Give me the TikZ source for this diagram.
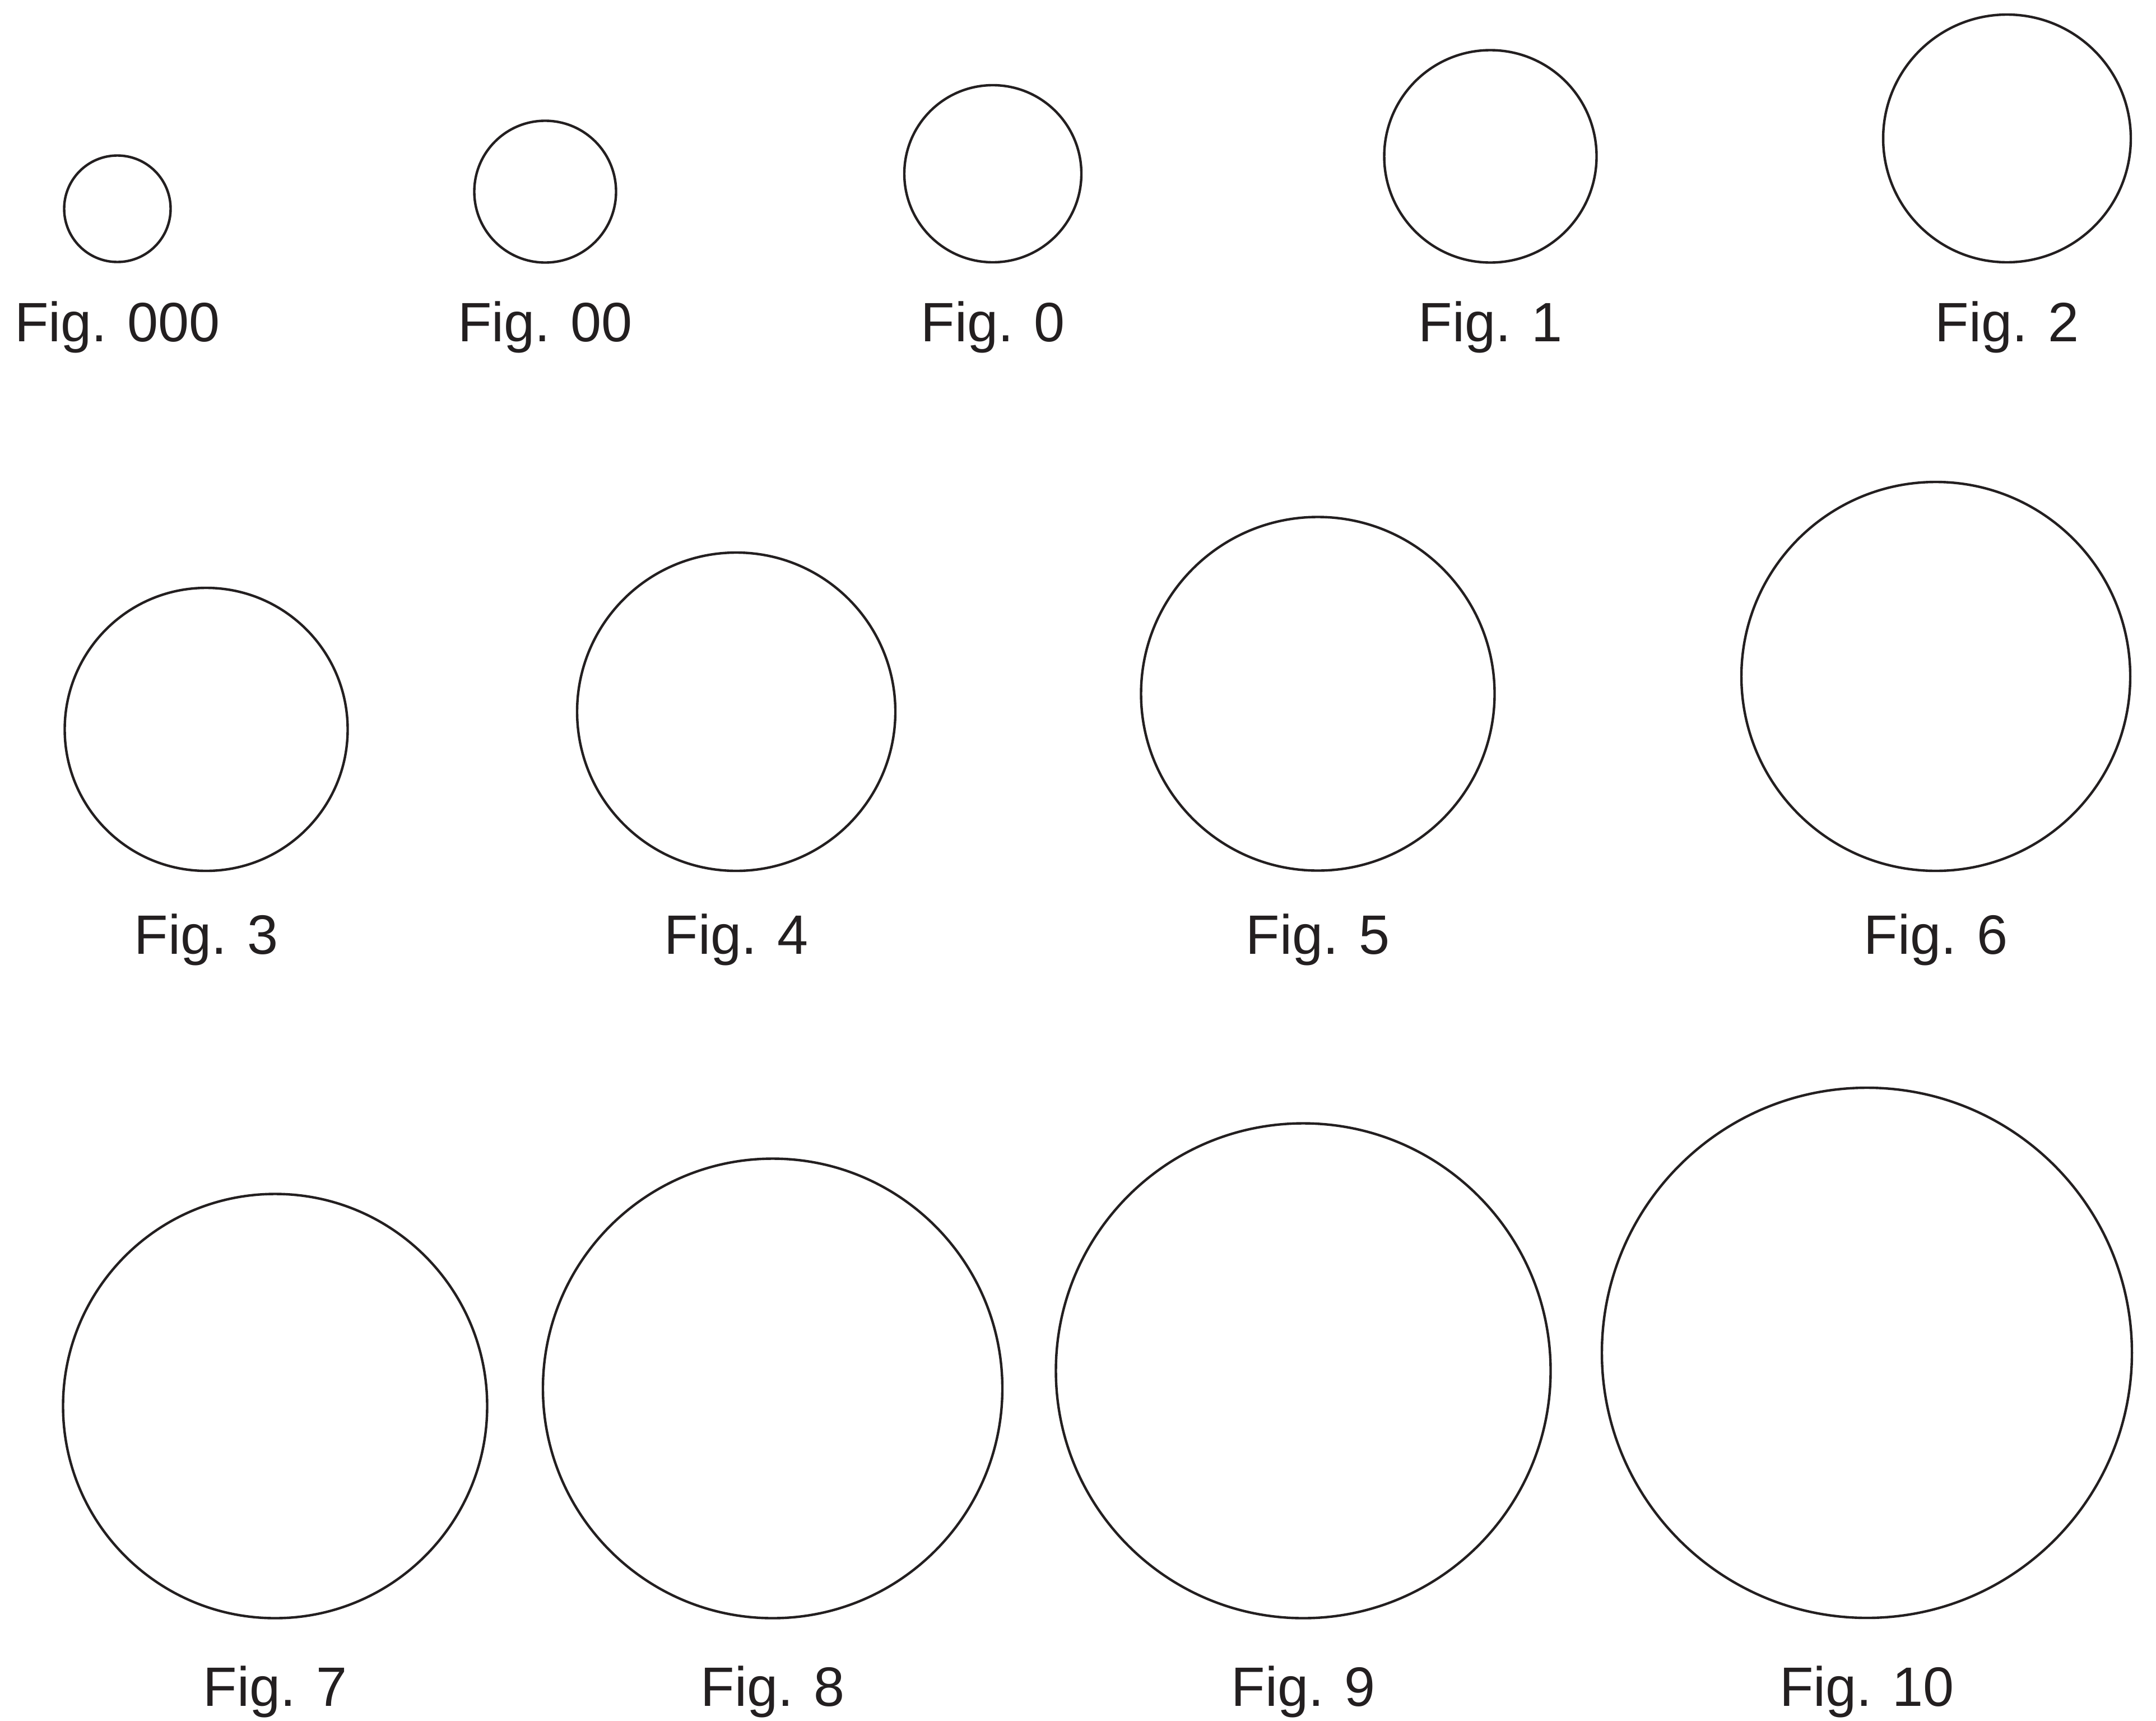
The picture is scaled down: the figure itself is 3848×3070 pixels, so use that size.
\documentclass[tikz,border=0pt]{standalone}
\usepackage{fontspec}
\setmainfont{Liberation Sans}
\definecolor{ink}{RGB}{35,31,32}
\begin{document}
\begin{tikzpicture}[x=1pt,y=-1pt,
  ring/.style={circle,draw=ink,line width=4.4pt,inner sep=0pt,outer sep=0pt,minimum size=#1},
  figlabel/.style={anchor=base,inner sep=0pt,text=ink,font=\fontsize{99}{119}\selectfont}]
\useasboundingbox (0,0) rectangle (3848,3070);
% row 1
\node[ring=190pt]   (c000) at (209.5,372.5) {};
\node[ring=253pt]   (c00)  at (973,342) {};
\node[ring=316pt]   (c0)   at (1772,310) {};
\node[ring=379pt]   (c1)   at (2660,279) {};
\node[ring=442pt]   (c2)   at (3582,247) {};
\node[figlabel] (l000) at (209.5,609) {Fig. 000};
\node[figlabel] (l00)  at (973,609) {Fig. 00};
\node[figlabel] (l0)   at (1772,609) {Fig. 0};
\node[figlabel] (l1)   at (2660,609) {Fig. 1};
\node[figlabel] (l2)   at (3582,609) {Fig. 2};
% row 2
\node[ring=505pt]   (c3) at (368,1301.5) {};
\node[ring=568pt]   (c4) at (1314,1270) {};
\node[ring=631pt]   (c5) at (2352,1238) {};
\node[ring=694pt]   (c6) at (3455,1207) {};
\node[figlabel] (l3) at (368,1702) {Fig. 3};
\node[figlabel] (l4) at (1314,1702) {Fig. 4};
\node[figlabel] (l5) at (2352,1702) {Fig. 5};
\node[figlabel] (l6) at (3455,1702) {Fig. 6};
% row 3
\node[ring=757pt]   (c7)  at (491,2509) {};
\node[ring=820pt]   (c8)  at (1379,2477.5) {};
\node[ring=883pt]   (c9)  at (2326,2446) {};
\node[ring=946pt]   (c10) at (3332,2414) {};
\node[figlabel] (l7)  at (491,3044) {Fig. 7};
\node[figlabel] (l8)  at (1379,3044) {Fig. 8};
\node[figlabel] (l9)  at (2326,3044) {Fig. 9};
\node[figlabel] (l10) at (3332,3044) {Fig. 10};
\end{tikzpicture}
\end{document}
